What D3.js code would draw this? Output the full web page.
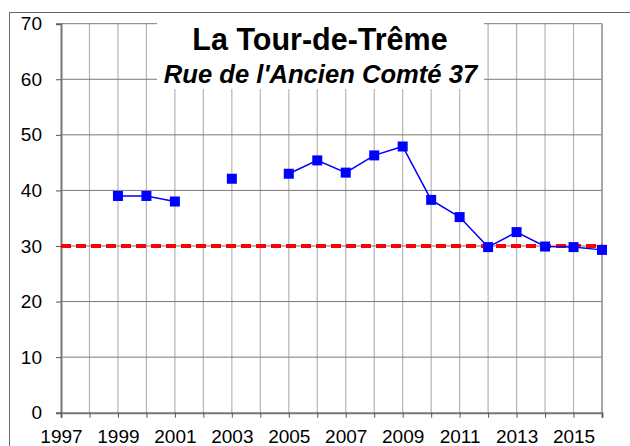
<!DOCTYPE html>
<html>
<head>
<meta charset="utf-8">
<title>La Tour-de-Trême</title>
<script src="https://d3js.org/d3.v7.min.js"></script>
<style>
  body { margin: 0; background: #fff; }
  text { font-family: "Liberation Sans", Arial, sans-serif; }
</style>
</head>
<body>
<div id="chart"></div>
<script>
// yearly values (null = no measurement)
var years = [1997, 1998, 1999, 2000, 2001, 2002, 2003, 2004, 2005, 2006, 2007, 2008, 2009, 2010, 2011, 2012, 2013, 2014, 2015, 2016];
var values = [null, null, 39.0, 39.0, 38.0, null, 42.1, null, 43.0, 45.4, 43.2, 46.3, 47.9, 38.3, 35.2, 29.8, 32.5, 29.9, 29.8, 29.3];
var limitValue = 30;
var yTicks = [0, 10, 20, 30, 40, 50, 60, 70];
var xTickLabels = [1997, 1999, 2001, 2003, 2005, 2007, 2009, 2011, 2013, 2015];
var title = "La Tour-de-Trême";
var subtitle = "Rue de l'Ancien Comté 37";

var W = 630, H = 446;
var margin = { top: 23.7, right: 28, bottom: 33.3, left: 61 };
var width = W - margin.left - margin.right,
    height = H - margin.top - margin.bottom;

var svg = d3.select("#chart").append("svg")
    .attr("width", W).attr("height", H);

// outer frame
svg.append("rect")
    .attr("x", 9.5).attr("y", 12.5)
    .attr("width", 640).attr("height", 460)
    .attr("fill", "none").attr("stroke", "#666").attr("stroke-width", 1);

var g = svg.append("g")
    .attr("transform", "translate(" + margin.left + "," + margin.top + ")");

var x = d3.scaleLinear().domain([1997, 2016]).range([0, width]);
var y = d3.scaleLinear().domain([0, 70]).range([height, 0]);

// vertical grid
g.append("g").selectAll("line")
    .data(d3.range(1998, 2017))
    .enter().append("line")
    .attr("x1", function (d) { return x(d); }).attr("x2", function (d) { return x(d); })
    .attr("y1", 0).attr("y2", height)
    .attr("stroke", "#b4b4b4").attr("stroke-width", 1.2);

// horizontal grid
g.append("g").selectAll("line")
    .data(yTicks.slice(1))
    .enter().append("line")
    .attr("x1", 0).attr("x2", width)
    .attr("y1", function (d) { return y(d); }).attr("y2", function (d) { return y(d); })
    .attr("stroke", "#7a7a7a").attr("stroke-width", 1);

// white title box over the grid
g.append("rect")
    .attr("x", 157 - margin.left).attr("y", -4)
    .attr("width", 484 - 157).attr("height", 89 - margin.top + 4)
    .attr("fill", "#fff");

// axes
var yAxis = g.append("g")
    .call(d3.axisLeft(y).tickValues(yTicks).tickSize(5).tickPadding(14));
var xAxis = g.append("g")
    .attr("transform", "translate(0," + height + ")")
    .call(d3.axisBottom(x).tickValues(d3.range(1997, 2017)).tickSize(5).tickPadding(12)
        .tickFormat(function (d) { return xTickLabels.indexOf(d) >= 0 ? d : ""; }));
[yAxis, xAxis].forEach(function (a) {
    a.select(".domain").attr("stroke", "#777").attr("stroke-width", 2);
    a.selectAll(".tick line").attr("stroke", "#555");
    a.selectAll("text").attr("font-size", 19).attr("fill", "#000")
        .attr("font-family", "'Liberation Sans', Arial, sans-serif");
});

// right border of plot
g.append("line")
    .attr("x1", width).attr("x2", width).attr("y1", 0).attr("y2", height)
    .attr("stroke", "#999").attr("stroke-width", 1.5);

// limit line
g.append("line")
    .attr("x1", 0).attr("x2", width)
    .attr("y1", y(limitValue)).attr("y2", y(limitValue))
    .attr("stroke", "#ff0000").attr("stroke-width", 4)
    .attr("stroke-dasharray", "10,5");

// data line
var pts = years.map(function (yr, i) { return { year: yr, value: values[i] }; });
var line = d3.line()
    .defined(function (d) { return d.value !== null; })
    .x(function (d) { return x(d.year); })
    .y(function (d) { return y(d.value); });

g.append("path")
    .datum(pts)
    .attr("d", line)
    .attr("fill", "none").attr("stroke", "#0000ff").attr("stroke-width", 1.5);

var s = 10;
g.selectAll(".marker")
    .data(pts.filter(function (d) { return d.value !== null; }))
    .enter().append("rect")
    .attr("class", "marker")
    .attr("x", function (d) { return x(d.year) - s / 2; })
    .attr("y", function (d) { return y(d.value) - s / 2; })
    .attr("width", s).attr("height", s)
    .attr("fill", "#0000ff");

// titles
svg.append("text")
    .attr("x", 320).attr("y", 50)
    .attr("text-anchor", "middle")
    .attr("font-size", 30.5).attr("font-weight", "bold")
    .text(title);
svg.append("text")
    .attr("x", 320.5).attr("y", 83)
    .attr("text-anchor", "middle")
    .attr("font-size", 25.6).attr("font-weight", "bold").attr("font-style", "italic")
    .text(subtitle);
</script>
</body>
</html>
